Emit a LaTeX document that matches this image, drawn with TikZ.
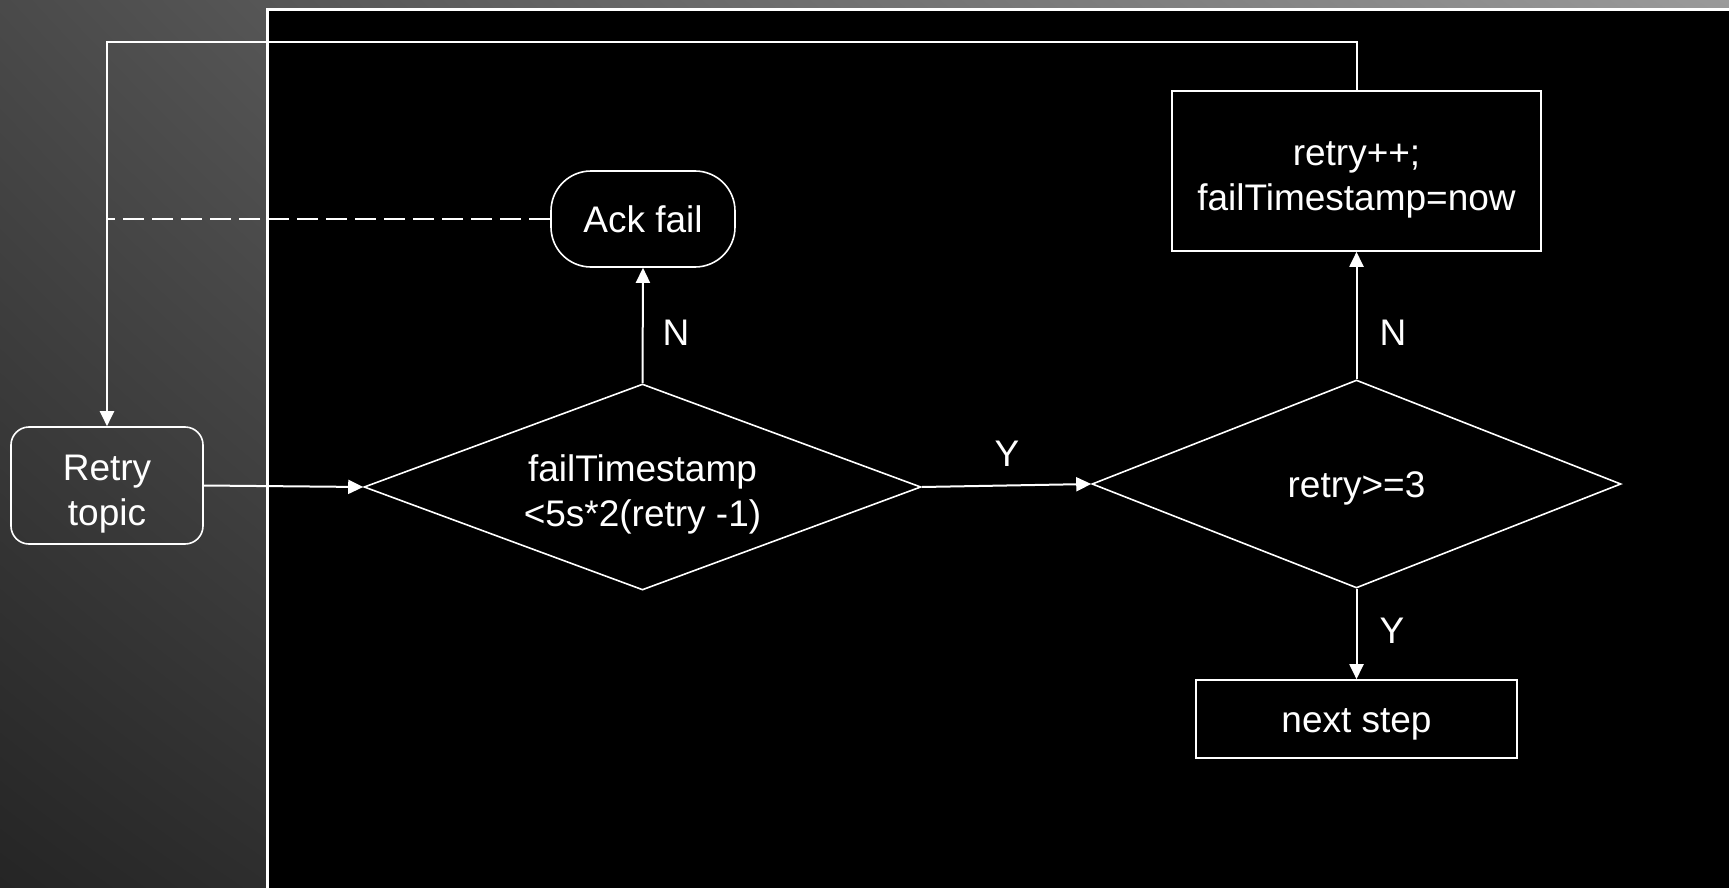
\documentclass[tikz,border=0pt]{standalone}
\usepackage{fontspec}
\setmainfont{Liberation Sans}
\usetikzlibrary{shapes.geometric,arrows.meta,shadings}
\definecolor{bgUL}{HTML}{4A4A4A}
\definecolor{bgUR}{HTML}{9A9A9A}
\definecolor{bgLL}{HTML}{252525}
\definecolor{bgLR}{HTML}{5A5A5A}
\newcommand\ls{\rule[-8pt]{0pt}{42pt}}
\newcommand\lt{\rule[-8pt]{0pt}{50pt}}
\begin{document}
\begin{tikzpicture}[x=1pt,y=-1pt,
  every node/.style={text=white,font=\fontsize{37}{45}\selectfont},
  shp/.style={draw=white,line width=1.6pt,inner sep=0pt,align=center},
  roundbox/.style={shp,rectangle,rounded corners=18pt},
  stadium/.style={shp,rectangle,rounded corners=40pt},
  plainbox/.style={shp,rectangle},
  decision/.style={shp,diamond},
  arr/.style={draw=white,line width=2pt,-{Triangle[length=15pt,width=14pt]}},
  lbl/.style={inner sep=0pt}]
\useasboundingbox (0,0) rectangle (1729,888);
\shade[upper left=bgUL,upper right=bgUR,lower left=bgLL,lower right=bgLR] (0,0) rectangle (1729,888);
\fill[black] (267,10) rectangle (1735,895);
\draw[white,line width=3pt] (267,895) -- (267,10) -- (1735,10);

\node[roundbox,minimum width=192pt,minimum height=117pt] (topic) at (107,485.5) {\lt Retry\\\ls topic};
\node[decision,minimum width=557pt,minimum height=206pt,shape aspect=2.7] (d1) at (642.5,487) {\lt failTimestamp\\\ls <5s*2(retry -1)};
\node[decision,minimum width=529pt,minimum height=208pt,shape aspect=2.54] (d2) at (1356.5,484) {\ls retry>=3};
\node[stadium,minimum width=184pt,minimum height=96pt] (ack) at (643,219) {\ls Ack fail};
\node[plainbox,minimum width=369pt,minimum height=160pt] (upd) at (1356.5,171) {\lt retry++;\\\ls failTimestamp=now};
\node[plainbox,minimum width=321pt,minimum height=78pt] (next) at (1356.5,719) {\ls next step};

\coordinate (corner) at (107,42);
\coordinate (dj) at (107,219);

\draw[arr] (topic.east) -- (d1.west);
\draw[arr] (d1.east) -- (d2.west);
\draw[arr] (d1.north) -- (ack.south);
\draw[arr] (d2.north) -- (upd.south);
\draw[arr] (d2.south) -- (next.north);
\draw[arr] (upd.north) |- (corner) -- (topic.north);
\draw[white,line width=2pt,dash pattern=on 21pt off 8pt] (ack.west) -- (dj);

\node[lbl] (n1) at (676,333) {N};
\node[lbl] (y1) at (1007,454) {Y};
\node[lbl] (n2) at (1393,333) {N};
\node[lbl] (y2) at (1392,631) {Y};
\end{tikzpicture}
\end{document}
